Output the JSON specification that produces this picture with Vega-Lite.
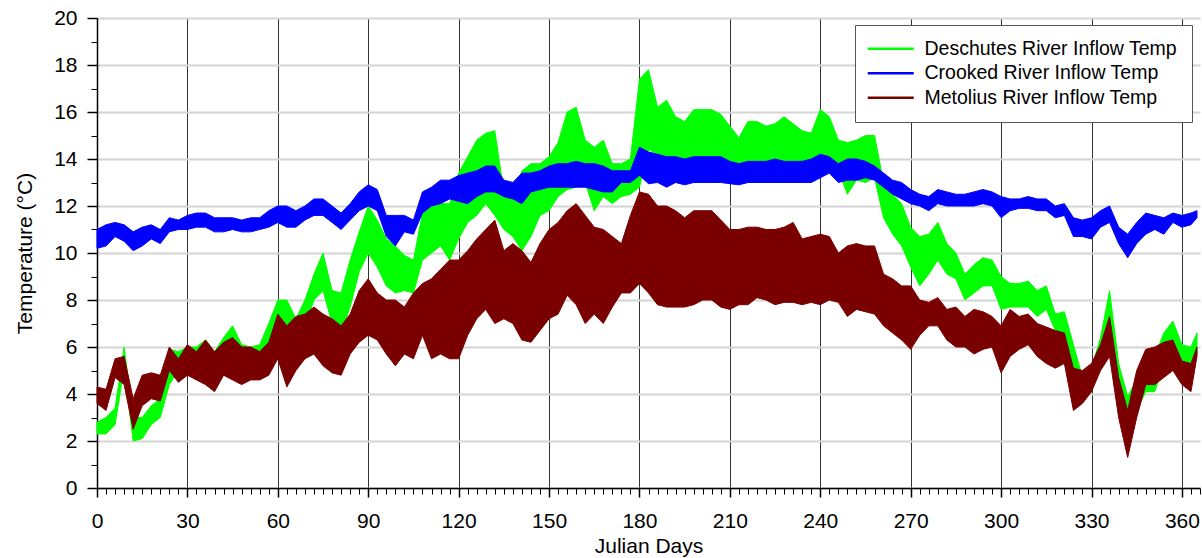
{
  "$schema": "https://vega.github.io/schema/vega-lite/v6.json",
  "width": 1103,
  "height": 470,
  "autosize": {"type": "none"},
  "padding": {"left": 97, "top": 18, "right": 2, "bottom": 70},
  "background": "white",
  "config": {
    "view": {"stroke": null},
    "font": "Liberation Sans",
    "axis": {"labelFont": "Liberation Sans", "titleFont": "Liberation Sans", "labelColor": "black", "titleColor": "black", "domainColor": "black", "tickColor": "black", "titleFontWeight": "normal"}
  },
  "data": {"values": [
    {"d":0,"gl":2.3,"gh":2.8,"bl":10.2,"bh":11.0,"ml":3.6,"mh":4.3},
    {"d":3,"gl":2.3,"gh":3.0,"bl":10.3,"bh":11.2,"ml":3.3,"mh":4.2},
    {"d":6,"gl":2.7,"gh":3.4,"bl":10.7,"bh":11.3,"ml":4.7,"mh":5.5},
    {"d":9,"gl":5.1,"gh":6.0,"bl":10.5,"bh":11.2,"ml":4.4,"mh":5.6},
    {"d":12,"gl":2.0,"gh":3.0,"bl":10.1,"bh":10.9,"ml":2.5,"mh":3.8},
    {"d":15,"gl":2.1,"gh":3.0,"bl":10.3,"bh":11.1,"ml":3.5,"mh":4.8},
    {"d":18,"gl":2.7,"gh":3.5,"bl":10.6,"bh":11.2,"ml":3.8,"mh":4.9},
    {"d":21,"gl":3.0,"gh":3.8,"bl":10.4,"bh":11.0,"ml":3.7,"mh":4.8},
    {"d":24,"gl":4.4,"gh":5.9,"bl":10.9,"bh":11.5,"ml":5.0,"mh":6.0},
    {"d":27,"gl":5.0,"gh":5.8,"bl":11.0,"bh":11.4,"ml":4.5,"mh":5.5},
    {"d":30,"gl":5.0,"gh":6.0,"bl":11.0,"bh":11.6,"ml":4.8,"mh":6.1},
    {"d":33,"gl":5.0,"gh":6.0,"bl":11.1,"bh":11.7,"ml":4.6,"mh":5.8},
    {"d":36,"gl":5.2,"gh":6.3,"bl":11.1,"bh":11.7,"ml":4.4,"mh":6.3},
    {"d":39,"gl":4.8,"gh":5.8,"bl":10.9,"bh":11.5,"ml":4.1,"mh":5.8},
    {"d":42,"gl":5.2,"gh":6.4,"bl":10.9,"bh":11.5,"ml":4.8,"mh":6.2},
    {"d":45,"gl":5.5,"gh":6.9,"bl":11.0,"bh":11.5,"ml":4.6,"mh":6.4},
    {"d":48,"gl":5.0,"gh":6.1,"bl":10.9,"bh":11.4,"ml":4.4,"mh":6.0},
    {"d":51,"gl":5.0,"gh":6.0,"bl":10.9,"bh":11.5,"ml":4.6,"mh":6.0},
    {"d":54,"gl":5.2,"gh":6.1,"bl":11.0,"bh":11.5,"ml":4.6,"mh":5.8},
    {"d":57,"gl":5.5,"gh":7.0,"bl":11.1,"bh":11.8,"ml":4.8,"mh":6.2},
    {"d":60,"gl":6.0,"gh":8.0,"bl":11.3,"bh":12.0,"ml":5.5,"mh":7.4},
    {"d":63,"gl":6.6,"gh":8.0,"bl":11.1,"bh":12.0,"ml":4.3,"mh":6.9},
    {"d":66,"gl":6.5,"gh":7.2,"bl":11.1,"bh":11.8,"ml":5.0,"mh":7.3},
    {"d":69,"gl":6.9,"gh":8.0,"bl":11.4,"bh":12.0,"ml":5.5,"mh":7.4},
    {"d":72,"gl":8.0,"gh":9.1,"bl":11.6,"bh":12.3,"ml":5.7,"mh":7.7},
    {"d":75,"gl":8.4,"gh":10.0,"bl":11.6,"bh":12.3,"ml":5.2,"mh":7.4},
    {"d":78,"gl":7.0,"gh":8.4,"bl":11.3,"bh":12.0,"ml":4.9,"mh":7.2},
    {"d":81,"gl":6.6,"gh":8.3,"bl":11.0,"bh":11.7,"ml":4.8,"mh":6.9},
    {"d":84,"gl":7.7,"gh":9.7,"bl":11.4,"bh":12.1,"ml":5.7,"mh":7.4},
    {"d":87,"gl":9.2,"gh":10.9,"bl":11.8,"bh":12.6,"ml":6.2,"mh":8.4},
    {"d":90,"gl":10.0,"gh":12.0,"bl":12.0,"bh":12.9,"ml":6.5,"mh":8.9},
    {"d":93,"gl":9.4,"gh":11.4,"bl":11.8,"bh":12.7,"ml":6.3,"mh":8.3},
    {"d":96,"gl":8.6,"gh":10.6,"bl":10.7,"bh":11.6,"ml":5.7,"mh":8.0},
    {"d":99,"gl":8.3,"gh":10.3,"bl":10.3,"bh":11.6,"ml":5.2,"mh":8.0},
    {"d":102,"gl":8.4,"gh":9.9,"bl":10.9,"bh":11.6,"ml":5.7,"mh":7.7},
    {"d":105,"gl":8.3,"gh":9.7,"bl":10.8,"bh":11.4,"ml":5.5,"mh":8.3},
    {"d":108,"gl":9.7,"gh":11.7,"bl":11.7,"bh":12.6,"ml":6.5,"mh":8.7},
    {"d":111,"gl":10.0,"gh":12.0,"bl":12.0,"bh":12.8,"ml":5.5,"mh":8.9},
    {"d":114,"gl":10.3,"gh":12.1,"bl":12.1,"bh":13.1,"ml":5.7,"mh":9.3},
    {"d":117,"gl":9.7,"gh":12.1,"bl":12.3,"bh":13.1,"ml":5.5,"mh":9.7},
    {"d":120,"gl":10.6,"gh":13.4,"bl":12.2,"bh":13.3,"ml":5.5,"mh":9.7},
    {"d":123,"gl":11.3,"gh":14.1,"bl":12.1,"bh":13.4,"ml":6.5,"mh":10.1},
    {"d":126,"gl":11.6,"gh":14.8,"bl":12.4,"bh":13.5,"ml":7.2,"mh":10.6},
    {"d":129,"gl":12.1,"gh":15.1,"bl":12.6,"bh":13.7,"ml":7.6,"mh":11.0},
    {"d":132,"gl":11.6,"gh":15.2,"bl":12.6,"bh":13.7,"ml":7.0,"mh":11.4},
    {"d":135,"gl":11.0,"gh":12.6,"bl":12.4,"bh":13.1,"ml":7.2,"mh":10.1},
    {"d":138,"gl":10.7,"gh":12.4,"bl":12.3,"bh":13.0,"ml":7.0,"mh":10.4},
    {"d":141,"gl":10.1,"gh":13.5,"bl":12.1,"bh":13.4,"ml":6.3,"mh":10.1},
    {"d":144,"gl":10.7,"gh":13.8,"bl":12.6,"bh":13.4,"ml":6.2,"mh":9.6},
    {"d":147,"gl":11.6,"gh":13.8,"bl":12.7,"bh":13.5,"ml":6.7,"mh":10.4},
    {"d":150,"gl":11.8,"gh":14.1,"bl":12.8,"bh":13.7,"ml":7.2,"mh":11.0},
    {"d":153,"gl":12.4,"gh":14.7,"bl":12.8,"bh":13.8,"ml":7.4,"mh":11.3},
    {"d":156,"gl":12.7,"gh":16.0,"bl":12.8,"bh":13.8,"ml":8.2,"mh":11.8},
    {"d":159,"gl":12.8,"gh":16.2,"bl":12.8,"bh":13.9,"ml":7.8,"mh":12.1},
    {"d":162,"gl":13.0,"gh":14.8,"bl":12.8,"bh":13.8,"ml":7.0,"mh":11.6},
    {"d":165,"gl":11.8,"gh":14.5,"bl":12.7,"bh":13.8,"ml":7.4,"mh":11.1},
    {"d":168,"gl":12.4,"gh":14.8,"bl":12.6,"bh":13.7,"ml":7.0,"mh":11.0},
    {"d":171,"gl":12.1,"gh":13.8,"bl":12.6,"bh":13.5,"ml":7.7,"mh":10.7},
    {"d":174,"gl":12.4,"gh":13.8,"bl":13.0,"bh":13.5,"ml":8.3,"mh":10.4},
    {"d":177,"gl":12.5,"gh":14.0,"bl":13.0,"bh":13.5,"ml":8.3,"mh":11.6},
    {"d":180,"gl":12.8,"gh":17.4,"bl":13.3,"bh":14.5,"ml":8.7,"mh":12.6},
    {"d":183,"gl":14.4,"gh":17.8,"bl":12.95,"bh":14.3,"ml":8.3,"mh":12.5},
    {"d":186,"gl":14.2,"gh":16.2,"bl":13.0,"bh":14.2,"ml":7.8,"mh":12.0},
    {"d":189,"gl":14.1,"gh":16.5,"bl":12.8,"bh":14.1,"ml":7.7,"mh":12.0},
    {"d":192,"gl":13.9,"gh":15.8,"bl":13.0,"bh":14.1,"ml":7.7,"mh":11.8},
    {"d":195,"gl":13.8,"gh":15.6,"bl":12.9,"bh":14.0,"ml":7.7,"mh":11.5},
    {"d":198,"gl":13.9,"gh":16.1,"bl":13.0,"bh":14.1,"ml":7.8,"mh":11.8},
    {"d":201,"gl":14.1,"gh":16.1,"bl":13.0,"bh":14.1,"ml":8.0,"mh":11.8},
    {"d":204,"gl":14.1,"gh":16.1,"bl":13.0,"bh":14.1,"ml":8.0,"mh":11.8},
    {"d":207,"gl":13.9,"gh":15.9,"bl":13.0,"bh":14.1,"ml":7.7,"mh":11.4},
    {"d":210,"gl":13.8,"gh":15.4,"bl":12.95,"bh":13.9,"ml":7.6,"mh":11.0},
    {"d":213,"gl":13.7,"gh":14.9,"bl":12.9,"bh":13.8,"ml":7.8,"mh":11.0},
    {"d":216,"gl":13.8,"gh":15.6,"bl":13.0,"bh":13.9,"ml":7.8,"mh":11.1},
    {"d":219,"gl":13.7,"gh":15.6,"bl":13.0,"bh":13.9,"ml":8.1,"mh":11.1},
    {"d":222,"gl":13.8,"gh":15.4,"bl":13.0,"bh":13.9,"ml":8.0,"mh":11.0},
    {"d":225,"gl":13.8,"gh":15.5,"bl":13.0,"bh":14.0,"ml":7.8,"mh":11.0},
    {"d":228,"gl":13.8,"gh":15.8,"bl":13.0,"bh":13.9,"ml":7.9,"mh":11.1},
    {"d":231,"gl":13.7,"gh":15.5,"bl":13.0,"bh":13.9,"ml":7.9,"mh":11.3},
    {"d":234,"gl":13.7,"gh":15.2,"bl":13.0,"bh":13.9,"ml":7.8,"mh":10.6},
    {"d":237,"gl":13.4,"gh":15.1,"bl":13.0,"bh":14.0,"ml":7.9,"mh":10.7},
    {"d":240,"gl":13.7,"gh":16.1,"bl":13.2,"bh":14.2,"ml":7.8,"mh":10.8},
    {"d":243,"gl":13.5,"gh":15.8,"bl":13.4,"bh":14.1,"ml":8.0,"mh":10.7},
    {"d":246,"gl":13.5,"gh":14.8,"bl":13.0,"bh":13.8,"ml":7.9,"mh":10.0},
    {"d":249,"gl":12.5,"gh":14.7,"bl":13.1,"bh":14.0,"ml":7.3,"mh":10.3},
    {"d":252,"gl":13.1,"gh":14.8,"bl":13.1,"bh":14.0,"ml":7.6,"mh":10.4},
    {"d":255,"gl":13.0,"gh":15.0,"bl":13.2,"bh":13.9,"ml":7.5,"mh":10.3},
    {"d":258,"gl":13.2,"gh":15.0,"bl":13.1,"bh":13.7,"ml":7.4,"mh":10.3},
    {"d":261,"gl":11.5,"gh":13.0,"bl":12.8,"bh":13.4,"ml":6.9,"mh":9.1},
    {"d":264,"gl":10.8,"gh":12.5,"bl":12.5,"bh":13.1,"ml":6.6,"mh":8.9},
    {"d":267,"gl":10.3,"gh":12.1,"bl":12.3,"bh":13.0,"ml":6.3,"mh":8.6},
    {"d":270,"gl":9.4,"gh":11.1,"bl":12.1,"bh":12.7,"ml":5.9,"mh":8.6},
    {"d":273,"gl":8.6,"gh":10.7,"bl":12.0,"bh":12.5,"ml":6.5,"mh":8.0},
    {"d":276,"gl":9.1,"gh":10.8,"bl":11.8,"bh":12.4,"ml":6.9,"mh":7.9},
    {"d":279,"gl":9.7,"gh":11.3,"bl":12.1,"bh":12.7,"ml":6.9,"mh":8.1},
    {"d":282,"gl":9.1,"gh":10.4,"bl":12.0,"bh":12.6,"ml":6.3,"mh":7.6},
    {"d":285,"gl":8.9,"gh":10.0,"bl":12.0,"bh":12.5,"ml":6.0,"mh":7.7},
    {"d":288,"gl":8.0,"gh":9.1,"bl":12.0,"bh":12.5,"ml":6.0,"mh":7.3},
    {"d":291,"gl":8.3,"gh":9.5,"bl":12.0,"bh":12.6,"ml":5.7,"mh":7.6},
    {"d":294,"gl":8.6,"gh":9.8,"bl":12.1,"bh":12.7,"ml":5.9,"mh":7.5},
    {"d":297,"gl":8.6,"gh":9.7,"bl":12.0,"bh":12.6,"ml":6.0,"mh":7.3},
    {"d":300,"gl":7.6,"gh":9.0,"bl":11.5,"bh":12.4,"ml":4.9,"mh":6.9},
    {"d":303,"gl":7.7,"gh":8.7,"bl":11.8,"bh":12.3,"ml":5.6,"mh":7.6},
    {"d":306,"gl":7.7,"gh":8.7,"bl":11.9,"bh":12.3,"ml":5.9,"mh":7.3},
    {"d":309,"gl":7.7,"gh":8.8,"bl":11.9,"bh":12.4,"ml":6.1,"mh":7.4},
    {"d":312,"gl":7.3,"gh":8.4,"bl":11.8,"bh":12.3,"ml":5.6,"mh":7.0},
    {"d":315,"gl":7.6,"gh":8.6,"bl":11.8,"bh":12.3,"ml":5.3,"mh":6.85},
    {"d":318,"gl":6.7,"gh":7.4,"bl":11.5,"bh":12.0,"ml":5.1,"mh":6.7},
    {"d":321,"gl":6.4,"gh":7.5,"bl":11.6,"bh":12.1,"ml":5.3,"mh":6.6},
    {"d":324,"gl":4.4,"gh":6.1,"bl":10.7,"bh":11.5,"ml":3.3,"mh":5.1},
    {"d":327,"gl":3.7,"gh":4.7,"bl":10.7,"bh":11.4,"ml":3.6,"mh":5.0},
    {"d":330,"gl":4.1,"gh":5.1,"bl":10.6,"bh":11.5,"ml":4.1,"mh":5.3},
    {"d":333,"gl":5.3,"gh":6.4,"bl":11.1,"bh":11.8,"ml":5.0,"mh":6.1},
    {"d":336,"gl":6.7,"gh":8.4,"bl":11.3,"bh":12.0,"ml":5.6,"mh":7.3},
    {"d":339,"gl":3.6,"gh":5.3,"bl":10.4,"bh":11.1,"ml":3.0,"mh":4.7},
    {"d":342,"gl":2.7,"gh":3.9,"bl":9.8,"bh":10.8,"ml":1.3,"mh":3.3},
    {"d":345,"gl":3.3,"gh":4.6,"bl":10.4,"bh":11.3,"ml":3.0,"mh":5.0},
    {"d":348,"gl":4.1,"gh":5.3,"bl":10.8,"bh":11.7,"ml":4.4,"mh":5.9},
    {"d":351,"gl":4.1,"gh":5.6,"bl":11.0,"bh":11.6,"ml":4.4,"mh":6.0},
    {"d":354,"gl":5.3,"gh":6.6,"bl":10.8,"bh":11.5,"ml":4.7,"mh":6.2},
    {"d":357,"gl":5.9,"gh":7.1,"bl":11.3,"bh":11.7,"ml":5.0,"mh":6.3},
    {"d":360,"gl":5.3,"gh":6.1,"bl":11.1,"bh":11.6,"ml":4.4,"mh":5.4},
    {"d":363,"gl":5.3,"gh":6.0,"bl":11.2,"bh":11.7,"ml":4.1,"mh":5.3},
    {"d":365,"gl":5.7,"gh":6.6,"bl":11.5,"bh":11.8,"ml":5.6,"mh":6.0}
  ]},
  "resolve": {"axis": {"x": "independent", "y": "independent"}},
  "layer": [
    {
      "mark": {"type": "area", "opacity": 1, "stroke": "#00ff00", "strokeWidth": 1},
      "encoding": {
        "x": {"field": "d", "type": "quantitative", "scale": {"domain": [0, 366], "nice": false, "zero": false},
          "axis": {"orient": "bottom", "values": [0,30,60,90,120,150,180,210,240,270,300,330,360], "grid": true, "gridColor": "#333333", "gridOpacity": 1, "gridWidth": 1, "tickSize": 9, "tickWidth": 1.5, "domainWidth": 1.5, "labelFontSize": 21, "labelPadding": 13, "labelFlush": false, "title": "Julian Days", "titleFontSize": 21, "titlePadding": 4}},
        "y": {"field": "gl", "type": "quantitative", "scale": {"domain": [0, 20], "nice": false},
          "axis": {"orient": "left", "values": [0,2,4,6,8,10,12,14,16,18,20], "grid": true, "gridColor": "#d4d4d4", "gridOpacity": 1, "gridWidth": 2, "tickSize": 10, "tickWidth": 1.5, "domainWidth": 1.5, "labelFontSize": 21, "labelPadding": 10, "title": "Temperature (°C)", "titleFontSize": 21, "titlePadding": 18}},
        "y2": {"field": "gh"},
        "color": {"datum": "Deschutes River Inflow Temp",
          "scale": {"domain": ["Deschutes River Inflow Temp", "Crooked River Inflow Temp", "Metolius River Inflow Temp"], "range": ["#00ff00", "#0000ff", "#7a0000"]},
          "legend": {"title": null, "orient": "none", "legendX": 758, "legendY": 7, "symbolType": "M-2.556,-0.14H2.556V0.14H-2.556Z", "symbolSize": 324, "symbolOffset": 12, "symbolStrokeWidth": 0, "symbolOpacity": 1, "labelOffset": 24, "labelFontSize": 19.5, "labelFont": "Liberation Sans", "labelColor": "black", "labelLimit": 0, "padding": 14, "rowPadding": 3.5, "strokeColor": "#555555", "fillColor": "white"}}
      }
    },
    {
      "mark": {"type": "area", "opacity": 1, "stroke": "#0000ff", "strokeWidth": 1},
      "encoding": {
        "x": {"field": "d", "type": "quantitative",
          "axis": {"orient": "bottom", "values": [3,6,9,12,15,18,21,24,27,33,36,39,42,45,48,51,54,57,63,66,69,72,75,78,81,84,87,93,96,99,102,105,108,111,114,117,123,126,129,132,135,138,141,144,147,153,156,159,162,165,168,171,174,177,183,186,189,192,195,198,201,204,207,213,216,219,222,225,228,231,234,237,243,246,249,252,255,258,261,264,267,273,276,279,282,285,288,291,294,297,303,306,309,312,315,318,321,324,327,333,336,339,342,345,348,351,354,357,363,366], "grid": false, "domain": false, "labels": false, "tickSize": 6, "tickWidth": 1, "title": null}},
        "y": {"field": "bl", "type": "quantitative",
          "axis": {"orient": "left", "values": [1,3,5,7,9,11,13,15,17,19], "grid": false, "domain": false, "labels": false, "tickSize": 6, "tickWidth": 1, "title": null}},
        "y2": {"field": "bh"},
        "color": {"datum": "Crooked River Inflow Temp"}
      }
    },
    {
      "mark": {"type": "area", "opacity": 1, "stroke": "#7a0000", "strokeWidth": 1},
      "encoding": {
        "x": {"field": "d", "type": "quantitative", "axis": null},
        "y": {"field": "ml", "type": "quantitative", "axis": null},
        "y2": {"field": "mh"},
        "color": {"datum": "Metolius River Inflow Temp"}
      }
    }
  ]
}
